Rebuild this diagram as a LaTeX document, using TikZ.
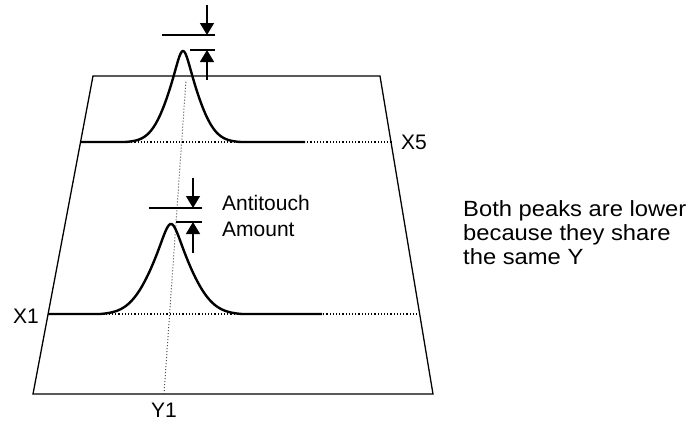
\documentclass[tikz,border=0pt]{standalone}
\usepackage{fontspec}
\setmainfont{Liberation Sans}
\newfontfamily\notefont{Liberation Sans}[FakeStretch=1.08]
\usetikzlibrary{arrows.meta,calc}

\tikzset{
  frame/.style={line width=1.3pt},
  peakline/.style={line width=2.4pt, line join=round},
  guide/.style={dotted, line width=1.2pt},
  yguide/.style={dotted, line width=1pt, black!70},
  dimline/.style={line width=1.3pt},
  dimarrow/.style={line width=1.4pt, -{Triangle[length=12pt,width=14pt]}},
  lbl/.style={inner sep=0pt, font=\fontsize{21}{24}\selectfont},
  note/.style={inner sep=0pt, font=\notefont\fontsize{22}{24}\selectfont}
}

% Peakform: Mischung aus Lorentz und Gauss, s = Breitenfaktor
\tikzset{declare function={
  pk(\u,\s)=0.4/(1+(\u/(10*\s))^2)+0.6*exp(-(\u/(24*\s))^2);
}}

\begin{document}
\begin{tikzpicture}[x=1pt,y=-1pt]

% ---------- Rahmen ----------
\useasboundingbox (0,0) rectangle (692,421);

% Trapez (Ebene)
\coordinate (tl) at (93,76);
\coordinate (tr) at (380,76);
\coordinate (br) at (433,394);
\coordinate (bl) at (33,394);
\draw[frame] (tl) -- (tr) -- (br) -- (bl) -- cycle;

% ---------- Y1 (gepunktet) ----------
\coordinate (ybot) at (164,394);
\coordinate (ytop) at (186,80);
\draw[yguide] (ybot) -- (ytop);
\node[lbl] (Y1) at (164,410) {Y1};

% ===================
% oben: Zeile X5
% ===================
\coordinate (xfivel) at (80,142);
\coordinate (xfiver) at (392,142);
\draw[guide] (xfivel) -- (xfiver);
\draw[peakline] (xfivel) -- (125,142)
  -- plot[domain=125:241, samples=150, smooth]
     ({\x},{142-91*(pk(\x-183,1)-pk(58,1))/(1-pk(58,1))})
  -- (305,142);
\node[lbl, anchor=west] (X5) at (401,142) {X5};

% ===================
% unten: Zeile X1
% ===================
\coordinate (xonel) at (48,314);
\coordinate (xoner) at (419,314);
\draw[guide] (xonel) -- (xoner);
\draw[peakline] (xonel) -- (100,314)
  -- plot[domain=100:242, samples=150, smooth]
     ({\x},{314-90*(pk(\x-171,1.3)-pk(71,1.3))/(1-pk(71,1.3))})
  -- (322,314);
\node[lbl, anchor=east] (X1) at (39,316) {X1};

% ---------- Antitouch-Markierung oben ----------
\coordinate (ua) at (162,35);  \coordinate (ub) at (215,35);
\coordinate (uc) at (190,50);  \coordinate (ud) at (215,50);
\draw[dimline] (ua) -- (ub);
\draw[dimline] (uc) -- (ud);
\coordinate (udn) at (207,5);
\coordinate (uup) at (207,80);
\draw[dimarrow] (udn) -- (207,35);
\draw[dimarrow] (uup) -- (207,50);

% ---------- Antitouch-Markierung unten ----------
\coordinate (la) at (149,208); \coordinate (lb) at (202,208);
\coordinate (lc) at (176,222); \coordinate (ld) at (202,222);
\draw[dimline] (la) -- (lb);
\draw[dimline] (lc) -- (ld);
\coordinate (ldn) at (193,178);
\coordinate (lup) at (193,253);
\draw[dimarrow] (ldn) -- (193,208);
\draw[dimarrow] (lup) -- (193,222);

\node[lbl, anchor=base west] (anti) at (222,210) {Antitouch};
\node[lbl, anchor=base west] (amount) at (222,236) {Amount};

% ---------- Erklaerung rechts ----------
\node[note, anchor=base west] (noteA) at (463,216) {Both peaks are lower};
\node[note, anchor=base west] (noteB) at (463,240) {because they share};
\node[note, anchor=base west] (noteC) at (463,264) {the same Y};

\end{tikzpicture}
\end{document}
